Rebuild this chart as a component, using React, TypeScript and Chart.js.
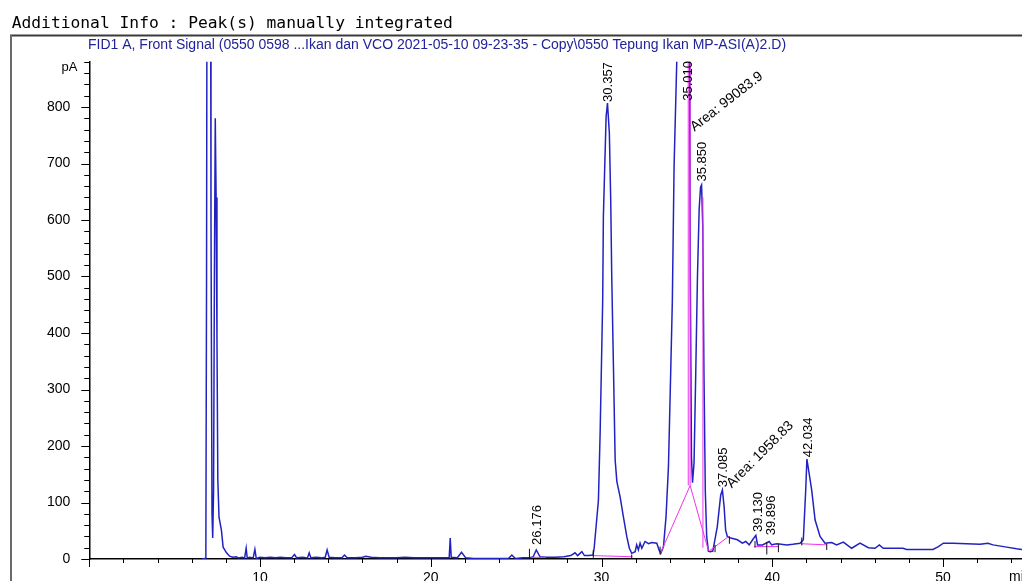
import { useEffect, useRef } from 'react';
import { Chart, registerables } from 'chart.js';

Chart.register(...registerables);

// ---- data (retention time in min, signal in pA) ----
const signalTime = [
  6.60, 6.78, 6.83, 6.87, 6.92, 7.00, 7.08, 7.13, 7.19, 7.23, 7.28, 7.33, 7.38, 7.43, 7.48, 7.53, 7.60, 7.74, 7.84, 8.04,
  8.22, 8.40, 8.60, 8.75, 8.95, 9.10, 9.19, 9.25, 9.40, 9.60, 9.70, 9.78, 10.0, 10.3, 10.6, 10.9, 11.2, 11.5, 11.85, 12.02,
  12.15, 12.5, 12.78, 12.88, 12.98, 13.3, 13.6, 13.82, 13.93, 14.05, 14.4, 14.8, 14.95, 15.1, 15.6, 16.0, 16.2, 16.5, 17.0, 17.5,
  18.0, 18.5, 19.0, 19.5, 20.0, 20.5, 21.0, 21.08, 21.14, 21.2, 21.55, 21.80, 22.05, 22.5, 23.0, 23.5, 24.0, 24.55, 24.75, 24.95,
  25.4, 25.78, 26.0, 26.18, 26.40, 26.8, 27.3, 27.8, 28.2, 28.45, 28.6, 28.85, 29.0, 29.25, 29.50, 29.57, 29.82, 29.92, 30.07, 30.11,
  30.27, 30.35, 30.46, 30.54, 30.60, 30.70, 30.80, 30.90, 31.09, 31.28, 31.48, 31.63, 31.77, 31.97, 32.06, 32.16, 32.26, 32.36, 32.55, 32.75,
  32.94, 33.24, 33.37, 33.47, 33.63, 33.78, 33.92, 34.06, 34.15, 34.25, 34.41, 34.6, 34.85, 35.01, 35.12, 35.20, 35.27, 35.33, 35.42, 35.52,
  35.62, 35.72, 35.80, 35.86, 35.93, 36.00, 36.08, 36.16, 36.26, 36.36, 36.52, 36.78, 36.98, 37.08, 37.18, 37.27, 37.37, 37.57, 37.96, 38.25,
  38.45, 38.65, 38.85, 39.04, 39.14, 39.43, 39.82, 39.97, 40.10, 40.3, 40.85, 41.2, 41.63, 41.82, 41.96, 42.03, 42.31, 42.51, 42.80, 43.09,
  43.48, 43.77, 44.16, 44.65, 45.14, 45.63, 46.02, 46.27, 46.50, 47.66, 47.87, 49.41, 49.73, 50.02, 50.59, 52.17, 52.63, 52.93, 53.73, 54.31,
  54.61, 55.2, 56.0,
];
const signalPA = [
  0, 1, 25, 500, 1600, 2200, 1600, 600, 80, 37, 120, 500, 780, 640, 390, 140, 74, 51, 21, 11,
  5, 3, 4, 2, 3, 2, 19, 2, 3, 2, 17, 1, 3, 2, 3, 2, 3, 2, 2, 8,
  2, 3, 2, 11, 2, 3, 2, 3, 16, 3, 2, 2, 7, 2, 2, 3, 5, 3, 2, 2,
  2, 3, 2, 2, 2, 2, 2, 2, 37, 3, 2, 12, 2, 1, 1, 1, 1, 1, 7, 1,
  2, 2, 4, 16, 4, 3, 3, 4, 6, 11, 6, 13, 6, 6, 7, 19, 104, 223, 458, 606,
  783, 807, 754, 635, 500, 340, 175, 137, 110, 75, 40, 19, 10, 13, 25, 16, 28, 19, 31, 27,
  29, 28, 16, 10, 22, 75, 163, 340, 458, 694, 883, 1300, 1800, 2000, 1400, 500, 180, 135, 170, 330,
  500, 620, 658, 662, 590, 330, 120, 40, 14, 13, 14, 57, 113, 122, 93, 51, 40, 37, 34, 28,
  31, 25, 34, 42, 25, 25, 31, 25, 26, 27, 25, 26, 28, 34, 122, 177, 122, 69, 40, 28,
  29, 25, 30, 19, 28, 20, 19, 25, 19, 19, 17, 17, 22, 28, 28, 26, 28, 25, 21, 18,
  17, 16, 15,
];

// manual integration baselines (pink)
const baselineFromTime = [25.85, 29.52, 33.45, 35.19, 36.30, 38.95, 41.70, 35.08, 35.19, 35.94];
const baselineFromPA = [3, 6, 10, 130, 14, 22, 27, 130, 130, 20];
const baselineToTime = [26.75, 31.80, 35.19, 36.27, 37.45, 40.40, 43.20, 35.08, 35.19, 35.94];
const baselineToPA = [3, 4, 130, 14, 40, 22, 25, 950, 950, 640];

// integration event tick marks (black)
const markTime = [25.78, 29.52, 31.77, 33.43, 36.65, 37.49, 38.99, 39.68, 40.36, 41.73, 43.19];
const markLowPA = [0, 2, 0, 8, 12, 27, 20, 8, 12, 24, 16];
const markHighPA = [18, 16, 8, 22, 25, 40, 32, 30, 26, 38, 27];

// peak retention-time labels
const peakLabelText = ['26.176', '30.357', '35.010', '35.850', '37.085', '39.130', '39.896', '42.034'];
const peakLabelTime = [26.176, 30.357, 35.01, 35.85, 37.085, 39.13, 39.896, 42.034];
const peakLabelBasePA = [25, 809, 811, 668, 127, 48, 42, 180];

// area labels
const areaLabelText = ['Area: 99083.9', 'Area: 1958.83'];
const areaLabelTime = [35.44, 37.63];
const areaLabelPA = [756, 125];
const areaLabelAngle = [-38, -45];

const xTickMin = 0;
const xTickMax = 56;
const xTickStep = 2;
const yTickMax = 880;
const yTickStep = 20;

const headerText = 'Additional Info : Peak(s) manually integrated';
const signalTitle = 'FID1 A, Front Signal (0550 0598 ...Ikan dan VCO 2021-05-10 09-23-35 - Copy\\0550 Tepung Ikan MP-ASI(A)2.D)';

const W = 1060;
const H = 600;
const SANS = '"Liberation Sans", Arial, sans-serif';

const decorPlugin = {
  id: 'decor',
  beforeDraw(chart: any) {
    const ctx = chart.ctx;
    ctx.save();
    ctx.fillStyle = '#fff';
    ctx.fillRect(0, 0, W, H);
    // header (monospace), fitted to measured width
    ctx.font = '100px "DejaVu Sans Mono", monospace';
    const hw = ctx.measureText(headerText).width;
    const hs = (100 * 441.5) / hw;
    ctx.font = `${hs}px "DejaVu Sans Mono", monospace`;
    ctx.fillStyle = '#000';
    ctx.textBaseline = 'alphabetic';
    ctx.textAlign = 'left';
    ctx.fillText(headerText, 11.7, 27.5);
    // frame
    ctx.strokeStyle = '#3a3a3a';
    ctx.lineWidth = 2;
    ctx.beginPath();
    ctx.moveTo(10, 35.5);
    ctx.lineTo(W, 35.5);
    ctx.stroke();
    ctx.strokeStyle = '#6a6a6a';
    ctx.beginPath();
    ctx.moveTo(11, 35);
    ctx.lineTo(11, H);
    ctx.stroke();
    // signal title
    ctx.font = `100px ${SANS}`;
    const tw = ctx.measureText(signalTitle).width;
    const ts = (100 * 699) / tw;
    ctx.font = `${ts}px ${SANS}`;
    ctx.fillStyle = '#22229a';
    ctx.fillText(signalTitle, 88, 48.5);
    ctx.restore();
  },
  afterDraw(chart: any) {
    const ctx = chart.ctx;
    const xs = chart.scales.x;
    const ys = chart.scales.y;
    const area = chart.chartArea;
    ctx.save();
    ctx.strokeStyle = '#000';
    ctx.lineWidth = 1;
    // x ticks
    for (const t of xs.ticks) {
      const px = Math.round(xs.getPixelForValue(t.value)) + 0.5;
      const len = t.value % 10 === 0 ? 8 : 4;
      ctx.beginPath();
      ctx.moveTo(px, area.bottom);
      ctx.lineTo(px, area.bottom + len);
      ctx.stroke();
    }
    // y ticks
    for (const t of ys.ticks) {
      const py = Math.round(ys.getPixelForValue(t.value)) + 0.5;
      const len = t.value % 100 === 0 ? 8 : 5;
      ctx.beginPath();
      ctx.moveTo(area.left, py);
      ctx.lineTo(area.left - len, py);
      ctx.stroke();
    }
    // axis units
    ctx.fillStyle = '#000';
    ctx.font = `13px ${SANS}`;
    ctx.textAlign = 'right';
    ctx.textBaseline = 'middle';
    ctx.fillText('pA', 77.5, ys.getPixelForValue(870));
    ctx.font = `14px ${SANS}`;
    ctx.textAlign = 'left';
    ctx.textBaseline = 'top';
    ctx.fillText('min', 1009, 570);
    ctx.restore();
  },
  afterDatasetsDraw(chart: any) {
    const ctx = chart.ctx;
    const xs = chart.scales.x;
    const ys = chart.scales.y;
    ctx.save();
    ctx.fillStyle = '#000';
    ctx.font = `13px ${SANS}`;
    ctx.textAlign = 'left';
    ctx.textBaseline = 'middle';
    peakLabelText.forEach((txt, i) => {
      const x = xs.getPixelForValue(peakLabelTime[i]) + 1;
      const y = ys.getPixelForValue(peakLabelBasePA[i]);
      ctx.save();
      ctx.translate(x, y);
      ctx.rotate(-Math.PI / 2);
      ctx.fillText(txt, 0, 0);
      ctx.restore();
    });
    ctx.textBaseline = 'alphabetic';
    ctx.font = `14px ${SANS}`;
    areaLabelText.forEach((txt, i) => {
      const x = xs.getPixelForValue(areaLabelTime[i]);
      const y = ys.getPixelForValue(areaLabelPA[i]);
      ctx.save();
      ctx.translate(x, y);
      ctx.rotate((areaLabelAngle[i] * Math.PI) / 180);
      ctx.fillText(txt, 0, 0);
      ctx.restore();
    });
    ctx.restore();
  },
};

export default function App() {
  const ref = useRef<HTMLCanvasElement>(null);

  useEffect(() => {
    const trace = signalTime.map((t, i) => ({ x: t, y: signalPA[i] }));
    const baselines: any[] = [];
    baselineFromTime.forEach((t, i) => {
      baselines.push({ x: t, y: baselineFromPA[i] });
      baselines.push({ x: baselineToTime[i], y: baselineToPA[i] });
      baselines.push({ x: baselineToTime[i], y: null });
    });
    const marks: any[] = [];
    markTime.forEach((t, i) => {
      marks.push({ x: t, y: markLowPA[i] });
      marks.push({ x: t, y: markHighPA[i] });
      marks.push({ x: t, y: null });
    });

    const chart = new Chart(ref.current as HTMLCanvasElement, {
      type: 'scatter',
      data: {
        datasets: [
          {
            data: marks,
            showLine: true,
            spanGaps: false,
            borderColor: '#111',
            borderWidth: 1,
            pointRadius: 0,
            order: 1,
          },
          {
            data: baselines,
            showLine: true,
            spanGaps: false,
            borderColor: '#ee33ee',
            borderWidth: 1,
            pointRadius: 0,
            order: 2,
          },
          {
            data: trace,
            showLine: true,
            borderColor: '#2222c0',
            borderWidth: 1.5,
            pointRadius: 0,
            tension: 0,
            order: 3,
          },
        ],
      },
      options: {
        animation: false,
        responsive: false,
        maintainAspectRatio: false,
        devicePixelRatio: 1,
        layout: { padding: { top: 61.8, left: 0, right: 14.55, bottom: 0 } },
        plugins: {
          legend: { display: false },
          tooltip: { enabled: false },
          title: { display: false },
        },
        scales: {
          x: {
            type: 'linear',
            position: 'bottom',
            min: xTickMin,
            max: xTickMax,
            grid: { display: false },
            border: { display: true, color: '#000', width: 1.5 },
            ticks: {
              stepSize: xTickStep,
              autoSkip: false,
              maxRotation: 0,
              padding: 3,
              color: '#000',
              font: { family: SANS, size: 14 },
              callback: (v: any) => (v % 10 === 0 && v > 0 && v <= 50 ? String(v) : ''),
            },
            afterFit: (s: any) => {
              s.height = H - 559;
            },
          },
          y: {
            type: 'linear',
            min: 0,
            max: yTickMax,
            grid: { display: false },
            border: { display: true, color: '#000', width: 1.5 },
            ticks: {
              stepSize: yTickStep,
              autoSkip: false,
              padding: 11,
              color: '#000',
              font: { family: SANS, size: 14 },
              callback: (v: any) => (v % 100 === 0 ? String(v) : ''),
            },
            afterFit: (s: any) => {
              s.width = 89.25;
            },
          },
        },
      },
      plugins: [decorPlugin],
    });
    return () => chart.destroy();
  }, []);

  return (
    <div
      style={{
        position: 'fixed',
        left: 0,
        top: 0,
        width: 1022,
        height: 581,
        overflow: 'hidden',
        background: '#fff',
      }}
    >
      <canvas ref={ref} width={W} height={H} style={{ display: 'block', width: W, height: H }} />
    </div>
  );
}
